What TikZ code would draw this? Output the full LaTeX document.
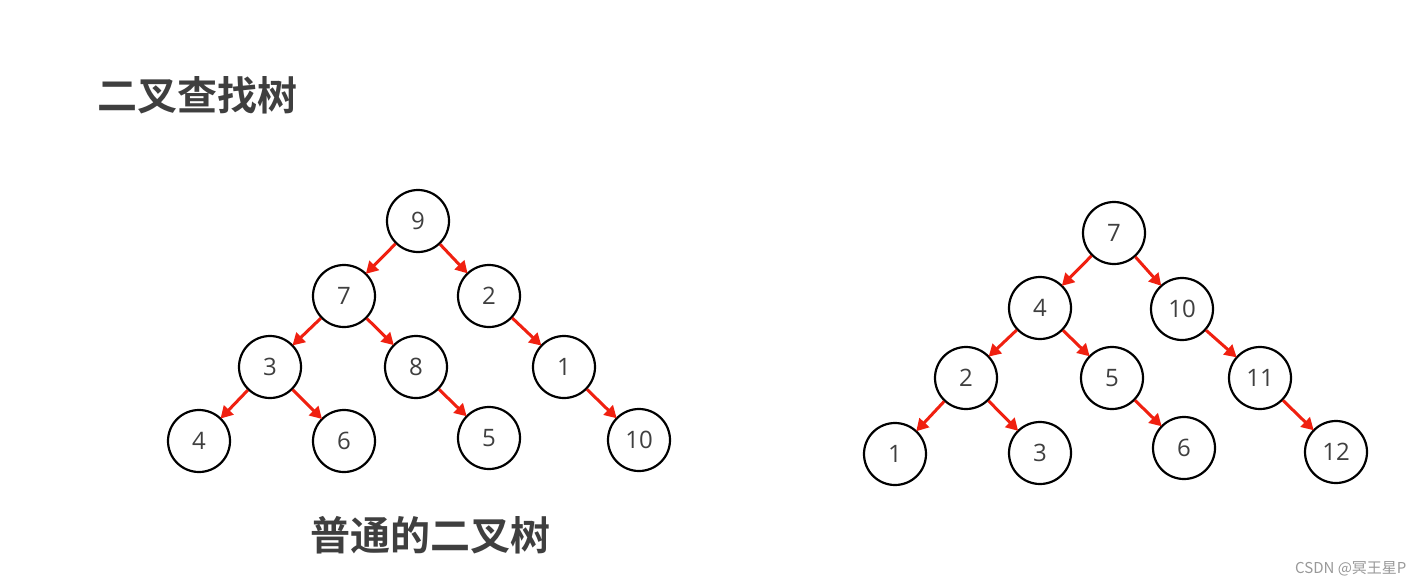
\documentclass[tikz,border=0pt]{standalone}
\usepackage{fontspec}
\setmainfont{Open Sans}
\newfontfamily\cjk{Noto Sans CJK SC}
\newfontfamily\cjkb{Noto Sans CJK SC Bold}
\usetikzlibrary{arrows.meta}
\definecolor{txtgray}{HTML}{3F3F3F}
\definecolor{arrred}{HTML}{F02010}
\tikzset{
  tn/.style={circle, draw=black, line width=2.2pt, minimum size=62pt, inner sep=0pt, font=\fontsize{24}{24}\selectfont, text=txtgray},
  edge/.style={draw=arrred, line width=3pt, -{Triangle[length=12pt,width=13pt]}, shorten >=-1pt},
  heading/.style={font=\cjkb\fontsize{40}{40}\selectfont, text=txtgray, inner sep=0pt}
}
\begin{document}
\begin{tikzpicture}[x=1pt,y=-1pt]
\fill[white] (0,0) rectangle (1424,586);
\useasboundingbox (0,0) rectangle (1424,586);
\node[heading, anchor=west] (title) at (97,95) {二叉查找树};
\node[heading] (caption) at (430,535) {普通的二叉树};
\node[font=\cjk\fontsize{15}{15}\selectfont, text=gray!80, anchor=east] (wm) at (1410,569) {CSDN @冥王星P};
% left tree
\node[tn] (a9) at (418,221) {9};
\node[tn] (a7) at (344,296) {7};
\node[tn] (a2) at (489,296) {2};
\node[tn] (a3) at (270,367) {3};
\node[tn] (a8) at (416,367) {8};
\node[tn] (a1) at (564,367) {1};
\node[tn] (a4) at (199,441) {4};
\node[tn] (a6) at (344,441) {6};
\node[tn] (a5) at (489,438) {5};
\node[tn] (a10) at (639,440) {10};
\draw[edge] (a9) -- (a7);
\draw[edge] (a9) -- (a2);
\draw[edge] (a7) -- (a3);
\draw[edge] (a7) -- (a8);
\draw[edge] (a2) -- (a1);
\draw[edge] (a3) -- (a4);
\draw[edge] (a3) -- (a6);
\draw[edge] (a8) -- (a5);
\draw[edge] (a1) -- (a10);
% right tree
\node[tn] (b7) at (1114,233) {7};
\node[tn] (b4) at (1040,308) {4};
\node[tn] (b10) at (1182,309) {10};
\node[tn] (b2) at (966,378) {2};
\node[tn] (b5) at (1112,378) {5};
\node[tn] (b11) at (1260,378) {11};
\node[tn] (b1) at (895,454) {1};
\node[tn] (b3) at (1040,453) {3};
\node[tn] (b6) at (1184,448) {6};
\node[tn] (b12) at (1336,452) {12};
\draw[edge] (b7) -- (b4);
\draw[edge] (b7) -- (b10);
\draw[edge] (b4) -- (b2);
\draw[edge] (b4) -- (b5);
\draw[edge] (b10) -- (b11);
\draw[edge] (b2) -- (b1);
\draw[edge] (b2) -- (b3);
\draw[edge] (b5) -- (b6);
\draw[edge] (b11) -- (b12);
\end{tikzpicture}
\end{document}
